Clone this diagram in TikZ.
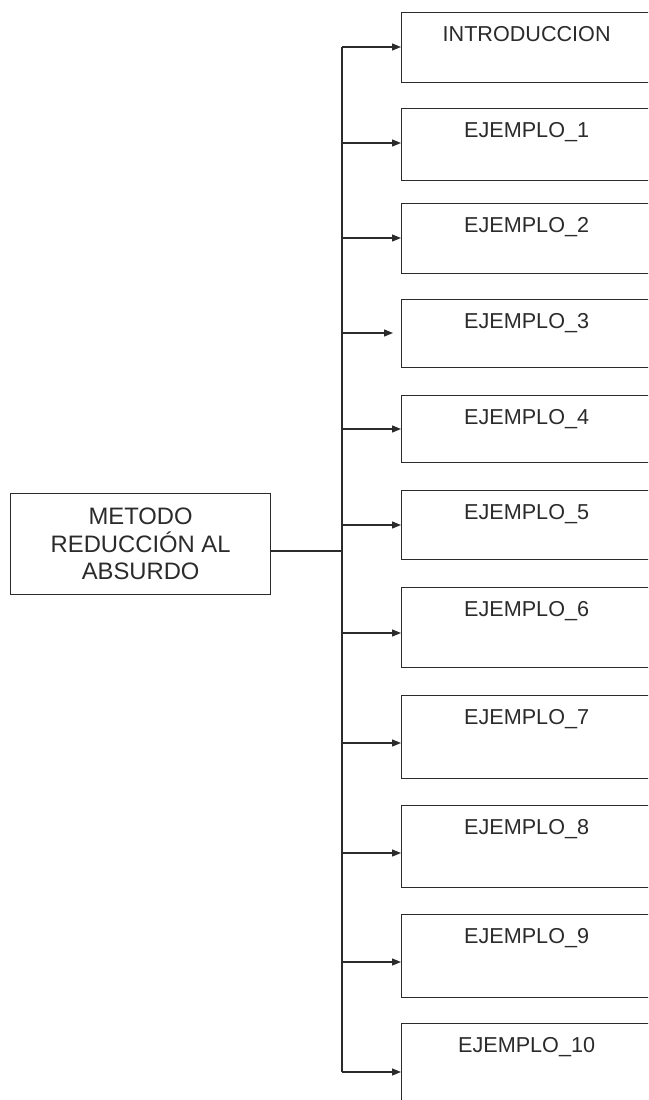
\documentclass[tikz,border=0pt]{standalone}
\usepackage{fontspec}
\setmainfont{Liberation Sans}
\usetikzlibrary{arrows.meta}
\definecolor{ink}{HTML}{2B2B2B}
\begin{document}
\begin{tikzpicture}[x=1pt,y=-1pt,
  line width=1.3pt,
  rbox/.style={draw=ink, anchor=north west, minimum width=250pt, inner sep=0pt},
  rtext/.style={anchor=base, font=\fontsize{21.6}{26}\selectfont, text=ink, inner sep=0pt},
  lbox/.style={draw=ink, anchor=north west, minimum width=260pt, minimum height=101pt,
    align=center, font=\fontsize{23.8}{27.5}\selectfont, text=ink, inner sep=0pt},
  link/.style={draw=ink, -{Triangle[length=9pt,width=7pt]}},
  wire/.style={draw=ink}]
\useasboundingbox (0,0) rectangle (648,1100);
\clip (0,0) rectangle (648,1100);
\fill[white] (0,0) rectangle (648,1100);

% main box
\node[lbox] (m) at (10,493) {METODO\\REDUCCIÓN AL\\ABSURDO};
\coordinate (j) at (342,551);
\draw[wire] (m.east |- j) -- (j);

% right boxes: index/top/height/arrow y/label
\foreach \i/\t/\h/\a/\txt in {
  0/12/70/47/INTRODUCCION,
  1/108/72/143/EJEMPLO\_1,
  2/203/70/238/EJEMPLO\_2,
  3/299/68/333/EJEMPLO\_3,
  4/395/67/429/EJEMPLO\_4,
  5/490/69/525/EJEMPLO\_5,
  6/587/80/633/EJEMPLO\_6,
  7/695/83/743/EJEMPLO\_7,
  8/805/82/853/EJEMPLO\_8,
  9/914/83/962/EJEMPLO\_9,
  10/1023/100/1072/EJEMPLO\_10}{
  \node[rbox, minimum height=\h pt] (b\i) at (401,\t) {};
  \node[rtext] (t\i) at ([yshift=-29.7pt]b\i.north) {\txt};
  \coordinate (a\i) at (342,\a);
}

% bus
\draw[wire] (a0) -- (a10);

% arrows
\foreach \i in {0,1,2,4,5,6,7,8,9,10}{
  \draw[link] (a\i) -- (b\i.north west |- a\i);
}
\draw[link] (a3) -- ([xshift=-8pt]b3.north west |- a3);
\end{tikzpicture}
\end{document}
